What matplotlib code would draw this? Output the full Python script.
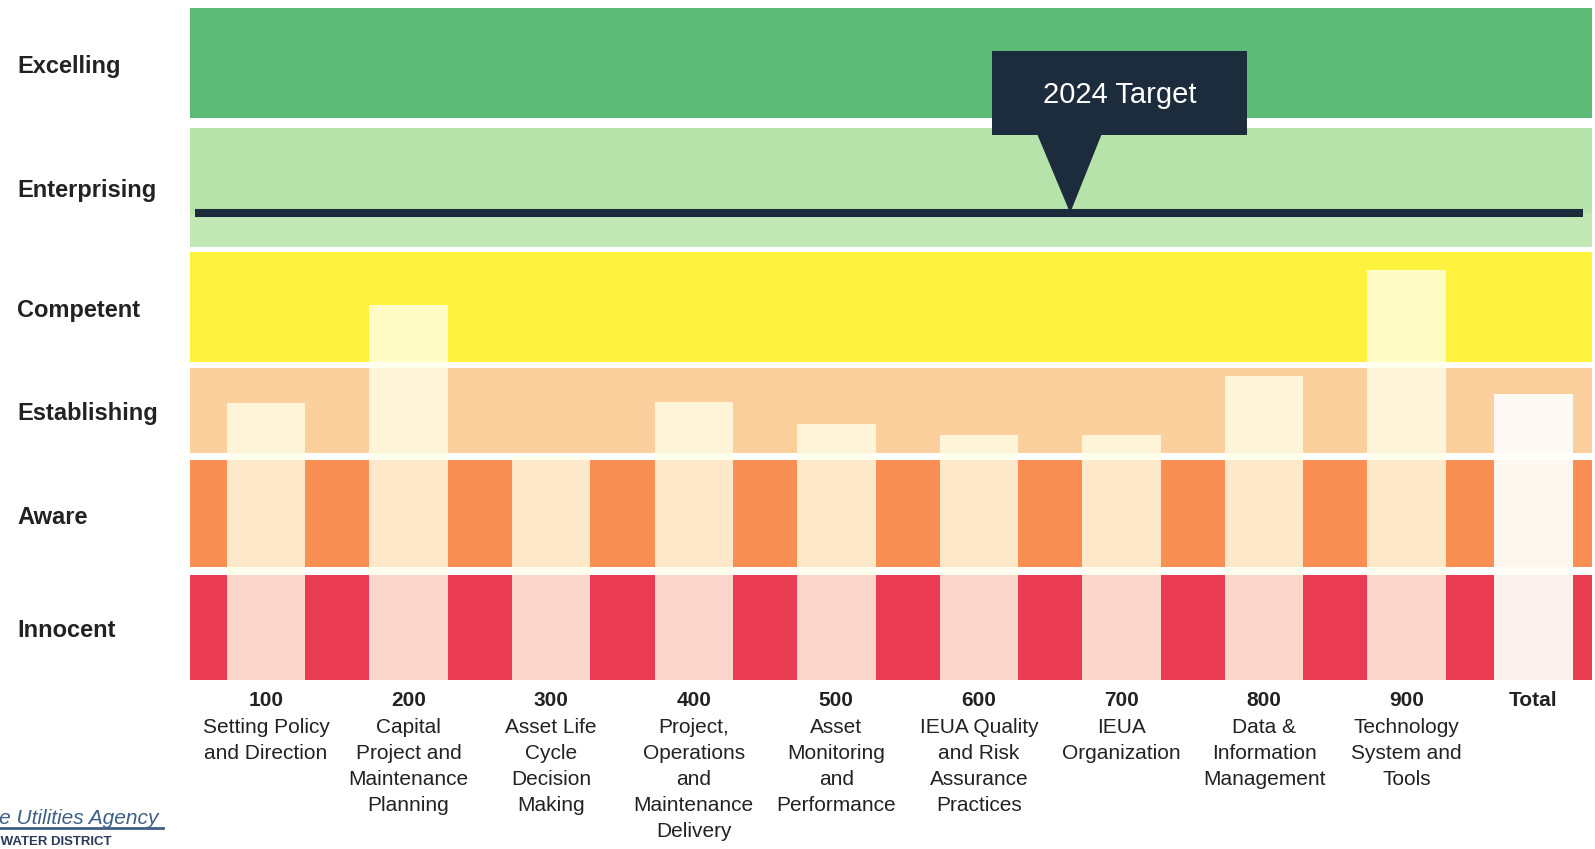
import matplotlib.pyplot as plt
from matplotlib.patches import Polygon, Rectangle
from matplotlib.transforms import blended_transform_factory

plt.rcParams['font.family'] = ['Liberation Sans', 'DejaVu Sans']

# maturity levels, bottom to top, with the span each band covers on the level scale
levels = ['Innocent', 'Aware', 'Establishing', 'Competent', 'Enterprising', 'Excelling']
level_lo = [0.00, 1.01, 2.03, 2.84, 3.87, 5.02]
level_hi = [0.94, 1.96, 2.79, 3.82, 4.93, 6.00]
level_colors = ['#ea3c52', '#f98f53', '#fbd09d', '#fff23e', '#b6e3aa', '#5db976']

codes = ['100', '200', '300', '400', '500', '600', '700', '800', '900', 'Total']
names = [
    'Setting Policy\nand Direction',
    'Capital\nProject and\nMaintenance\nPlanning',
    'Asset Life\nCycle\nDecision\nMaking',
    'Project,\nOperations\nand\nMaintenance\nDelivery',
    'Asset\nMonitoring\nand\nPerformance',
    'IEUA Quality\nand Risk\nAssurance\nPractices',
    'IEUA\nOrganization',
    'Data &\nInformation\nManagement',
    'Technology\nSystem and\nTools',
    '',
]
scores = [2.47, 3.35, 2.00, 2.48, 2.29, 2.19, 2.19, 2.71, 3.66, 2.55]
target = 4.17
target_label = '2024 Target'

navy = '#1d2c3c'

fig = plt.figure(figsize=(15.95, 8.49), dpi=100)
ax = fig.add_axes([190 / 1595, 1 - 680 / 849, 1402 / 1595, 672 / 849])
ax.set_xlim(-0.533, 9.30)
ax.set_ylim(0, 6)
ax.axis('off')

# coloured level bands
for lo, hi, c in zip(level_lo, level_hi, level_colors):
    ax.axhspan(lo, hi, color=c, lw=0, zorder=1)
# lighter strip under the target line in the Enterprising band
ax.axhspan(level_lo[4], target, color='#c2e8b6', lw=0, zorder=1)

# score columns as pale overlays on the bands; the total sits a little closer
x = list(range(len(codes) - 1))
x.append(x[-1] + 0.89)
ax.bar(x[:-1], scores[:-1], width=0.55, color='#ffffe9', alpha=0.8, lw=0, zorder=2)
ax.bar(x[-1:], scores[-1:], width=0.55, color='#fffdf8', alpha=0.95, lw=0, zorder=2)

# target line with callout
ax.hlines(target, -0.50, 9.24, color=navy, lw=5.8, zorder=3)
tip_x = 5.64
ax.add_patch(Polygon([(tip_x - 0.23, target + 0.70), (tip_x + 0.22, target + 0.70),
                      (tip_x, target)], closed=True, color=navy, lw=0, zorder=4))
ax.add_patch(Rectangle((5.09, target + 0.70), 1.79, 0.75, color=navy, lw=0, zorder=4))
ax.text(5.985, target + 1.055, target_label, color='white', fontsize=21,
        ha='center', va='center', zorder=5)

# level names on the left
ytr = blended_transform_factory(fig.transFigure, ax.transData)
for lo, hi, name in zip(level_lo, level_hi, levels):
    ax.text(17 / 1595, (lo + hi) / 2 - 0.03, name, transform=ytr, fontsize=17,
            fontweight='bold', color='#222222', ha='left', va='center')

# category labels under the columns
xtr = ax.get_xaxis_transform()
for xi, code, name in zip(x, codes, names):
    ax.text(xi, -0.030, code, transform=xtr, fontsize=15, fontweight='bold',
            color='#222222', ha='center', va='center')
    if name:
        ax.text(xi, -0.056, name, transform=xtr, fontsize=15, color='#222222',
                ha='center', va='top', linespacing=1.47)

# agency mark in the lower left corner
fig.text(158 / 1595, 1 - 818 / 849, 'Inland Empire Utilities Agency', fontsize=15,
         style='italic', color='#3e5f86', ha='right', va='center')
fig.add_artist(plt.Line2D([0, 163 / 1595], [1 - 828 / 849, 1 - 828 / 849],
                          color='#3e5f86', lw=2))
fig.text(112 / 1595, 1 - 842 / 849, 'A MUNICIPAL WATER DISTRICT', fontsize=9.5,
         fontweight='bold', color='#2a3a5a', ha='right', va='center')

fig.savefig('out.png', dpi=100)
